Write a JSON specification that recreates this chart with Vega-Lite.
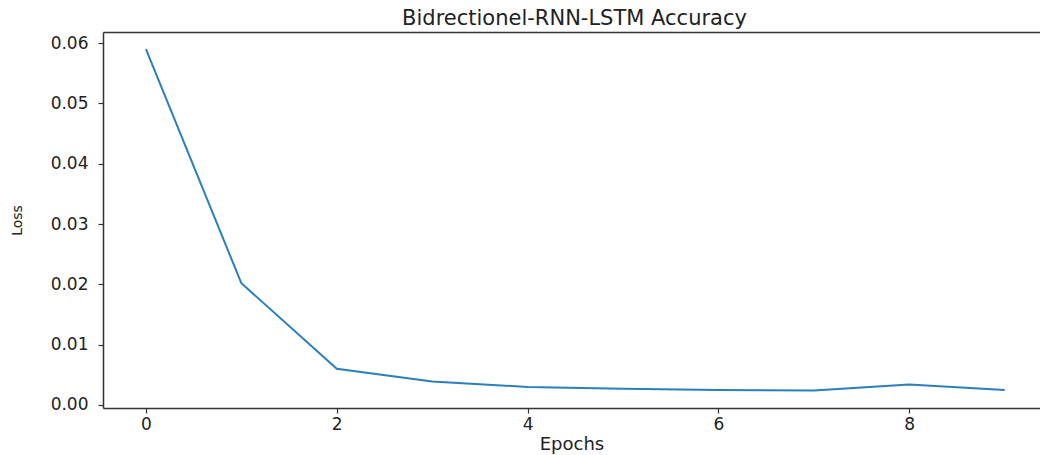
{
  "$schema": "https://vega.github.io/schema/vega-lite/v6.json",
  "autosize": {"type": "none"},
  "padding": {"left": 103, "top": 32, "right": 0, "bottom": 47},
  "width": 937,
  "height": 376,
  "background": "white",
  "title": {"text": "Bidrectionel-RNN-LSTM Accuracy", "font": "DejaVu Sans", "fontSize": 21, "fontWeight": "normal", "color": "#222", "offset": 3, "dx": 3},
  "config": {"view": {"stroke": null}},
  "data": {"values": [
    {"epoch": 0, "loss": 0.0590},
    {"epoch": 1, "loss": 0.0202},
    {"epoch": 2, "loss": 0.0060},
    {"epoch": 3, "loss": 0.0039},
    {"epoch": 4, "loss": 0.0030},
    {"epoch": 5, "loss": 0.0027},
    {"epoch": 6, "loss": 0.0025},
    {"epoch": 7, "loss": 0.0024},
    {"epoch": 8, "loss": 0.0034},
    {"epoch": 9, "loss": 0.0025}
  ]},
  "layer": [
    {
      "mark": {"type": "line", "color": "#2a7fbd", "strokeWidth": 2, "clip": true},
      "encoding": {
        "x": {"field": "epoch", "type": "quantitative", "scale": {"domain": [-0.45, 9.37], "nice": false, "zero": false},
          "axis": {"orient": "bottom", "values": [0, 2, 4, 6, 8], "format": "d", "grid": false, "title": "Epochs",
            "domainColor": "#333", "domainWidth": 1.5, "tickColor": "#333", "tickSize": 5, "tickWidth": 1.2,
            "labelFont": "DejaVu Sans", "labelFontSize": 17, "labelColor": "#222", "labelPadding": 3,
            "titleFont": "DejaVu Sans", "titleFontSize": 18, "titleFontWeight": "normal", "titleColor": "#222", "titlePadding": 3}},
        "y": {"field": "loss", "type": "quantitative", "scale": {"domain": [-0.0005, 0.06185], "nice": false, "zero": false},
          "axis": {"values": [0, 0.01, 0.02, 0.03, 0.04, 0.05, 0.06], "format": ".2f", "grid": false, "title": "Loss",
            "domainColor": "#333", "domainWidth": 1.5, "tickColor": "#333", "tickSize": 5, "tickWidth": 1.2,
            "labelFont": "DejaVu Sans", "labelFontSize": 17, "labelColor": "#222", "labelPadding": 10,
            "titleFont": "DejaVu Sans", "titleFontSize": 14, "titleFontWeight": "normal", "titleColor": "#222", "titlePadding": 26}}
      }
    },
    {
      "mark": {"type": "line", "opacity": 0},
      "encoding": {
        "x": {"field": "epoch", "type": "quantitative", "scale": {"domain": [-0.45, 9.37], "nice": false, "zero": false},
          "axis": {"orient": "top", "labels": false, "ticks": false, "grid": false, "title": null, "domainColor": "#333", "domainWidth": 1.5}},
        "y": {"field": "loss", "type": "quantitative"}
      }
    }
  ],
  "resolve": {"axis": {"x": "independent"}}
}
